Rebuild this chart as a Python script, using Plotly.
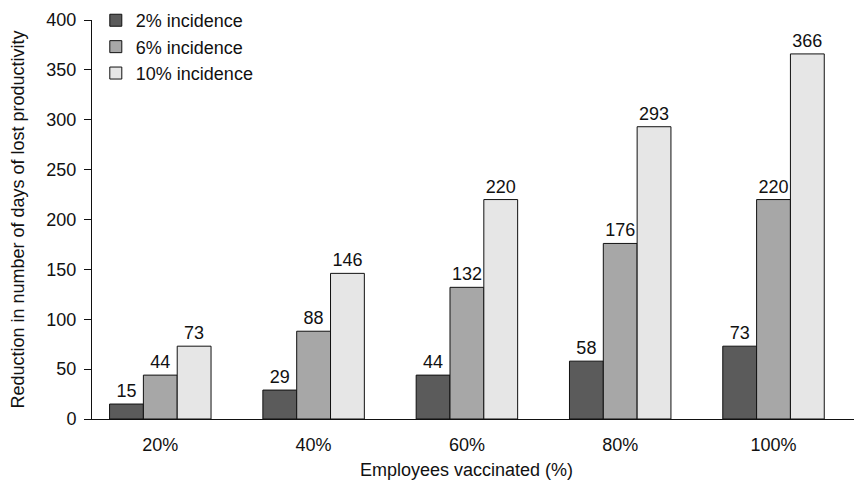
import plotly.graph_objects as go

categories = ["20%", "40%", "60%", "80%", "100%"]
series_names = ["2% incidence", "6% incidence", "10% incidence"]
incidence_2 = [15, 29, 44, 58, 73]
incidence_6 = [44, 88, 132, 176, 220]
incidence_10 = [73, 146, 220, 293, 366]
y_ticks = [0, 50, 100, 150, 200, 250, 300, 350, 400]

values = [incidence_2, incidence_6, incidence_10]
fills = ["#5b5b5b", "#a7a7a7", "#e6e6e6"]

font_family = "Liberation Sans, Arial, Helvetica, sans-serif"
fs = 18

fig = go.Figure()
for name, vals, color in zip(series_names, values, fills):
    fig.add_trace(go.Bar(
        x=categories,
        y=vals,
        name=name,
        legendgroup=name,
        marker=dict(color=color, line=dict(color="#111111", width=1)),
        text=[str(v) for v in vals],
        textposition="outside",
        textfont=dict(size=fs, color="#111111", family=font_family),
        cliponaxis=False,
    ))

# x-axis title centred under the middle category
fig.add_annotation(
    x=2, xref="x", y=-0.128, yref="paper",
    text="Employees vaccinated (%)", showarrow=False,
    xanchor="center", yanchor="middle",
    font=dict(size=fs, family=font_family, color="#111111"),
)

fig.update_layout(
    width=854,
    height=480,
    margin=dict(l=92, r=0, t=20, b=61),
    paper_bgcolor="white",
    plot_bgcolor="white",
    barmode="group",
    bargap=0.338,
    bargroupgap=0,
    font=dict(family=font_family, size=fs, color="#111111"),
    showlegend=True,
    legend=dict(
        x=0.005, y=1.045, xanchor="left", yanchor="top",
        font=dict(size=fs),
        tracegroupgap=0,
        bgcolor="rgba(0,0,0,0)",
    ),
    xaxis=dict(
        range=[-0.4455, 4.525],
        showline=True, linecolor="#111111", linewidth=1,
        ticks="outside", ticklen=9, tickcolor="rgba(0,0,0,0)",
        showgrid=False, zeroline=False,
        tickfont=dict(size=fs),
    ),
    yaxis=dict(
        range=[0, 400],
        tickvals=y_ticks,
        showline=True, linecolor="#111111", linewidth=1,
        ticks="outside", ticklen=7, tickcolor="#111111", tickwidth=1,
        ticklabelstandoff=4,
        showgrid=False, zeroline=False,
        tickfont=dict(size=fs),
        title=dict(text="Reduction in number of days of lost productivity", font=dict(size=fs), standoff=17),
    ),
)

fig.write_html("out.html")
